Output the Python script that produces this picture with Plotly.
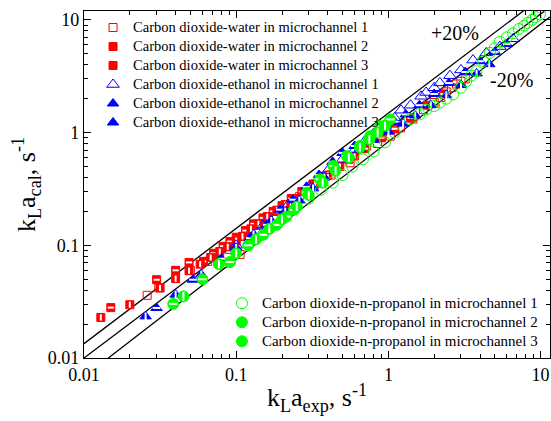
import plotly.graph_objects as go

# ---------------- data ----------------
water1_x = [0.026, 0.031, 0.05, 0.065, 0.075, 0.09, 0.106, 0.12, 0.14, 0.16, 0.19, 0.22, 0.26, 0.3, 0.36, 0.42, 0.56, 0.72, 0.85, 1.03, 1.2, 1.45, 1.7, 2.0, 2.2, 2.4, 2.6, 2.8, 3.0, 3.2]
water1_y = [0.036, 0.042, 0.06, 0.072, 0.08, 0.092, 0.083, 0.13, 0.15, 0.17, 0.2, 0.23, 0.27, 0.31, 0.36, 0.42, 0.54, 0.76, 0.8, 0.93, 1.1, 1.32, 1.6, 1.85, 2.05, 2.3, 2.5, 2.7, 2.85, 3.0]

water2_x = [0.015, 0.03, 0.04, 0.049, 0.061, 0.071, 0.082, 0.091, 0.1, 0.115, 0.13, 0.15, 0.175, 0.2, 0.23, 0.27, 0.32, 0.38, 0.45, 0.55, 0.7, 0.9, 1.1, 1.4, 1.8, 2.3]
water2_y = [0.028, 0.0495, 0.06, 0.0705, 0.072, 0.085, 0.098, 0.108, 0.118, 0.135, 0.155, 0.175, 0.2, 0.225, 0.26, 0.3, 0.35, 0.41, 0.48, 0.58, 0.72, 0.9, 1.08, 1.35, 1.75, 2.2]

water3_x = [0.0129, 0.02, 0.0316, 0.04, 0.049, 0.058, 0.068, 0.078, 0.088, 0.1, 0.11, 0.125, 0.14, 0.16, 0.185, 0.21, 0.24, 0.28, 0.33, 0.4, 0.48, 0.6]
water3_y = [0.0229, 0.0297, 0.0418, 0.0506, 0.0595, 0.068, 0.078, 0.088, 0.097, 0.11, 0.12, 0.14, 0.155, 0.18, 0.205, 0.23, 0.26, 0.3, 0.35, 0.42, 0.5, 0.62]

ethanol1_x = [0.1, 0.15, 0.22, 0.3, 0.4, 0.5, 0.6, 0.7, 0.8, 0.95, 1.1, 1.21, 1.4, 1.64, 1.77, 2.0, 2.18, 2.54, 3.0, 3.6, 4.4, 5.4, 6.6]
ethanol1_y = [0.1, 0.15, 0.23, 0.33, 0.46, 0.58, 0.7, 0.84, 0.98, 1.15, 1.35, 1.58, 1.75, 2.1, 2.27, 2.5, 2.76, 3.2, 3.6, 4.4, 5.1, 5.8, 6.8]

ethanol2_x = [0.03, 0.052, 0.08, 0.123, 0.159, 0.194, 0.237, 0.29, 0.35, 0.43, 0.5, 0.6, 0.75, 0.9, 1.1, 1.3, 1.6, 2.0, 2.5, 3.2, 4.0, 5.0, 6.0]
ethanol2_y = [0.0278, 0.0495, 0.076, 0.116, 0.152, 0.207, 0.254, 0.33, 0.42, 0.55, 0.66, 0.76, 0.9, 1.05, 1.25, 1.45, 1.75, 2.2, 2.75, 3.45, 4.3, 5.2, 6.1]

ethanol3_x = [0.0254, 0.04, 0.059, 0.1, 0.13, 0.17, 0.21, 0.26, 0.32, 0.38, 0.45, 0.55, 0.65, 0.8, 1.0, 1.25, 1.5, 1.9, 2.4, 3.0, 3.8, 4.6]
ethanol3_y = [0.0234, 0.0365, 0.055, 0.095, 0.125, 0.165, 0.2, 0.25, 0.32, 0.4, 0.5, 0.62, 0.72, 0.86, 1.02, 1.2, 1.42, 1.75, 2.15, 2.65, 3.35, 4.05]

propanol1_x = [0.3, 0.36, 0.43, 0.5, 0.58, 0.68, 0.8, 0.95, 1.1, 1.38, 1.6, 1.77, 2.0, 2.18, 2.4, 2.66, 3.0, 3.25, 3.5, 3.79, 4.2, 4.65, 5.0, 5.4, 6.0, 6.6, 7.2, 7.8, 8.2, 8.8, 9.3, 9.9]
propanol1_y = [0.26, 0.31, 0.36, 0.42, 0.5, 0.58, 0.68, 0.82, 1.0, 1.31, 1.45, 1.6, 1.72, 1.85, 2.0, 2.18, 2.5, 2.87, 3.2, 3.5, 4.3, 5.1, 5.6, 6.4, 7.0, 7.6, 8.3, 8.9, 9.4, 10.0, 10.6, 11.2]

propanol2_x = [0.0386, 0.06, 0.091, 0.12, 0.15, 0.185, 0.214, 0.24, 0.291, 0.355, 0.435, 0.533, 0.65, 0.76, 0.88, 1.03]
propanol2_y = [0.0302, 0.05, 0.071, 0.1, 0.124, 0.152, 0.18, 0.207, 0.294, 0.385, 0.506, 0.62, 0.76, 0.93, 1.14, 1.31]

propanol3_x = [0.045, 0.077, 0.1, 0.135, 0.165, 0.2, 0.25, 0.3, 0.37, 0.45, 0.55, 0.65, 0.75, 0.85, 0.95]
propanol3_y = [0.0352, 0.068, 0.085, 0.113, 0.14, 0.17, 0.22, 0.28, 0.36, 0.46, 0.6, 0.74, 0.87, 1.0, 1.15]

# reference lines (end points)
line_mid_x = [0.01, 10.9]
line_mid_y = [0.01, 12.3]
line_up_x = [0.01, 7.89]
line_up_y = [0.0134, 12.3]
line_lo_x = [0.01445, 11.5]
line_lo_y = [0.01, 10.6]

major_ticks = [0.01, 0.1, 1, 10]
major_labels = ["0.01", "0.1", "1", "10"]
minor_ticks = [m * d for d in [0.01, 0.1, 1, 10] for m in range(2, 10)]

RED = "#FF0000"
BLUE = "#0000FF"
GREEN = "#00FF00"
FONT = "Liberation Serif, Times New Roman, serif"

fig = go.Figure()

for lx, ly in [(line_mid_x, line_mid_y), (line_up_x, line_up_y), (line_lo_x, line_lo_y)]:
    fig.add_trace(go.Scatter(x=lx, y=ly, mode="lines", line=dict(color="black", width=1.3),
                             showlegend=False, hoverinfo="skip"))


def label(text, px):
    return '<span style="font-size:%spx">%s</span>' % (px, text)


def series(x, y, name, symbol, color, size, kind, legend, px):
    if kind == "open":
        fig.add_trace(go.Scatter(x=x, y=y, mode="markers", name=label(name, px), legend=legend,
                                 marker=dict(symbol=symbol + "-open", size=size, color=color,
                                             line=dict(width=1, color=color))))
    else:
        fig.add_trace(go.Scatter(x=x, y=y, mode="markers", name=label(name, px), legend=legend,
                                 marker=dict(symbol=symbol, size=size, color=color,
                                             line=dict(width=1, color=color))))
        over = "line-ew" if kind == "h" else "line-ns"
        fig.add_trace(go.Scatter(x=x, y=y, mode="markers", showlegend=False, hoverinfo="skip",
                                 marker=dict(symbol=over, size=size * 0.55, color="white",
                                             line=dict(width=2, color="white"))))


series(water1_x, water1_y, "Carbon dioxide-water in microchannel 1", "square", RED, 8, "open", "legend", 14.5)
series(water2_x, water2_y, "Carbon dioxide-water in microchannel 2", "square", RED, 8, "h", "legend", 14.5)
series(water3_x, water3_y, "Carbon dioxide-water in microchannel 3", "square", RED, 8, "v", "legend", 14.5)
series(ethanol1_x, ethanol1_y, "Carbon dioxide-ethanol in microchannel 1", "triangle-up", BLUE, 11, "open", "legend", 14.5)
series(ethanol2_x, ethanol2_y, "Carbon dioxide-ethanol in microchannel 2", "triangle-up", BLUE, 10, "h", "legend", 14.5)
series(ethanol3_x, ethanol3_y, "Carbon dioxide-ethanol in microchannel 3", "triangle-up", BLUE, 10, "v", "legend", 14.5)
series(propanol1_x, propanol1_y, "Carbon dioxide-n-propanol in microchannel 1", "circle", GREEN, 11, "open", "legend2", 15)
series(propanol2_x, propanol2_y, "Carbon dioxide-n-propanol in microchannel 2", "circle", GREEN, 11, "h", "legend2", 15)
series(propanol3_x, propanol3_y, "Carbon dioxide-n-propanol in microchannel 3", "circle", GREEN, 11, "v", "legend2", 15)

axis_common = dict(
    type="log", showgrid=False, zeroline=False, showline=True, linecolor="black", linewidth=1.3,
    mirror="ticks", ticks="inside", ticklen=7, tickwidth=1.2, tickcolor="black",
    tickvals=major_ticks, ticktext=major_labels,
    minor=dict(tickvals=minor_ticks, ticks="inside", ticklen=4, tickwidth=1, tickcolor="black"),
    tickfont=dict(family=FONT, size=18, color="black"),
)

fig.update_layout(
    width=551, height=421,
    margin=dict(l=84, r=1, t=11, b=63),
    paper_bgcolor="white", plot_bgcolor="white",
    font=dict(family=FONT, color="black"),
    xaxis=dict(axis_common, range=[-2, 1.062],
               title=dict(text="k<sub>L</sub>a<sub>exp</sub>, s<sup>-1</sup>",
                          font=dict(family=FONT, size=26), standoff=4)),
    yaxis=dict(axis_common, range=[-2, 1.079],
               title=dict(text="k<sub>L</sub>a<sub>cal</sub>, s<sup>-1</sup>",
                          font=dict(family=FONT, size=26), standoff=4)),
    legend=dict(x=0.0194, y=0.9942, xanchor="left", yanchor="top", bgcolor="rgba(0,0,0,0)",
                font=dict(family=FONT, size=11), tracegroupgap=0),
    legend2=dict(x=0.296, y=0.1995, xanchor="left", yanchor="top", bgcolor="rgba(0,0,0,0)",
                 font=dict(family=FONT, size=11), tracegroupgap=0),
    annotations=[
        dict(text="+20%", x=0.796, y=0.937, xref="paper", yref="paper", showarrow=False,
             xanchor="center", yanchor="middle", font=dict(family=FONT, size=20)),
        dict(text="-20%", x=0.918, y=0.801, xref="paper", yref="paper", showarrow=False,
             xanchor="center", yanchor="middle", font=dict(family=FONT, size=20)),
    ],
)

fig.write_html("out.html", config={"displayModeBar": False},
               post_script="document.body.style.margin='0';")
